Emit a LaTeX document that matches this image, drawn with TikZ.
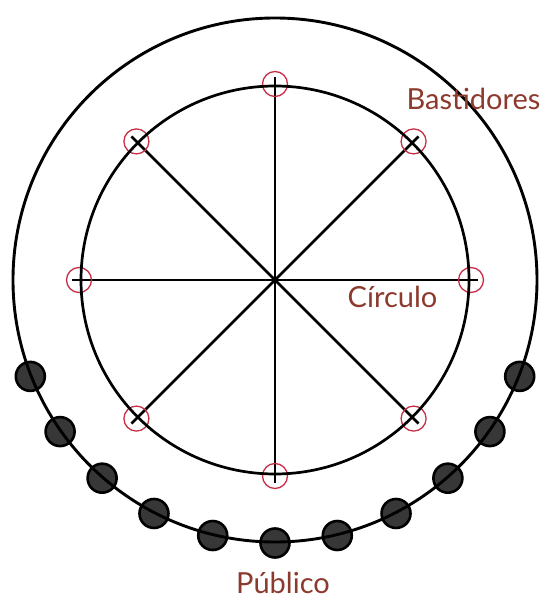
\documentclass[tikz,border=0pt]{standalone}
\usepackage{fontspec}
\setmainfont{Lato}
\usepackage{tikz}
\usetikzlibrary{calc}
\definecolor{labelbrown}{RGB}{140,58,45}
\definecolor{markred}{RGB}{200,45,70}
\definecolor{dotgray}{RGB}{55,55,55}
\tikzstyle{marker} = [circle, draw=markred, line width=1.3pt, minimum size=25pt, inner sep=0pt]
\tikzstyle{person} = [circle, draw=black, line width=2.6pt, fill=dotgray, minimum size=29pt, inner sep=0pt]
\tikzstyle{spoke} = [line width=2.7pt]
\tikzset{
  tag/.style={
    text=labelbrown,
    font=\fontsize{29}{32}\selectfont,
    anchor=base,
    inner sep=0pt
  }
}

\begin{document}
\begin{tikzpicture}[x=1pt, y=-1pt]
    \useasboundingbox (0,0) rectangle (545,601);
    \coordinate (c) at (275,280);
    % spokes and marks on the circle
    \foreach \a in {0,45,...,315}{
      \coordinate (e\a) at ($(c)+(\a:203pt)$);
      \draw[spoke] (c) -- (e\a);
      \node[marker] (m\a) at ($(c)+(\a:196pt)$) {};
    }
    \draw[line width=2.7pt] (c) circle (194pt);
    % the audience
    \foreach \i in {0,...,10}
      \node[person] (pub\i) at ($(c)+({201.5+13.7*\i}:263pt)$) {};
    \draw[line width=2.9pt] (c) circle (262pt);
    \node[tag] (bast) at (473.5,110) {Bastidores};
    \node[tag] (circ) at (392.5,307) {Círculo};
    \node[tag] (publ) at (283,593) {Público};
  \end{tikzpicture}
\end{document}
